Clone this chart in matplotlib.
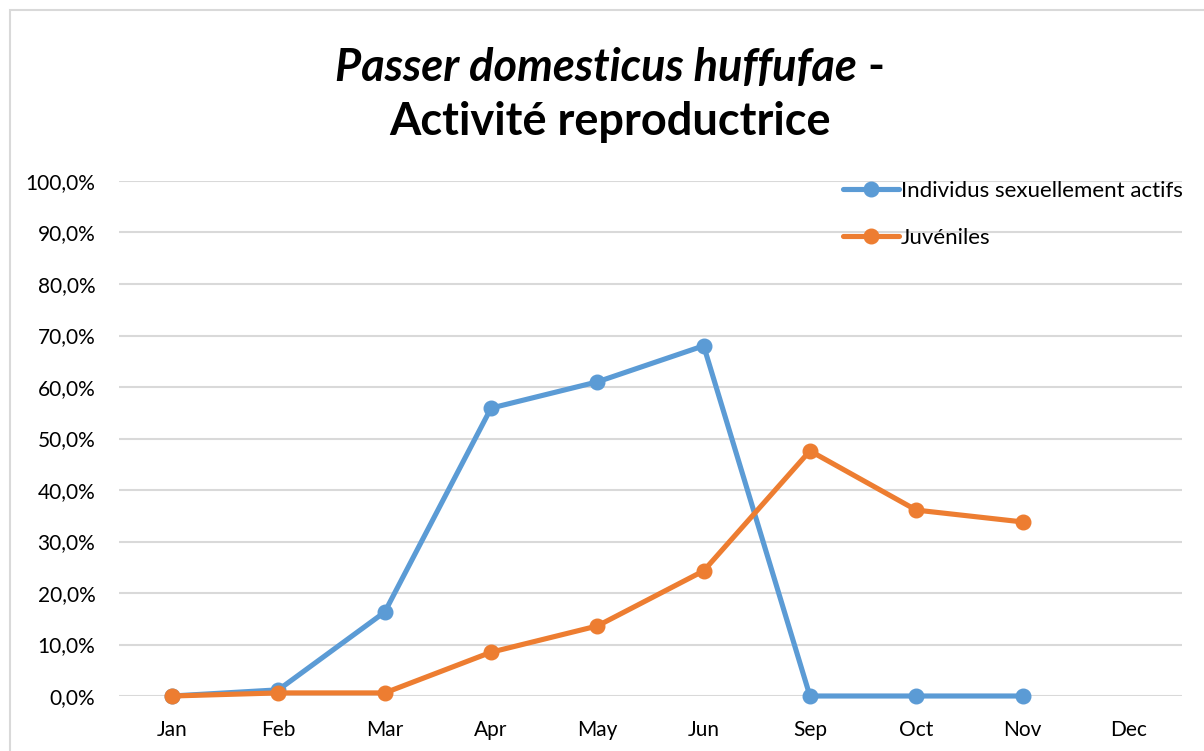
import matplotlib
matplotlib.use("Agg")
import matplotlib.pyplot as plt
from matplotlib.patches import Rectangle
from matplotlib.ticker import FuncFormatter, MultipleLocator

months = ["Jan", "Feb", "Mar", "Apr", "May", "Jun", "Sep", "Oct", "Nov", "Dec"]
actifs = [0.0, 1.2, 16.3, 55.9, 61.0, 68.0, 0.0, 0.0, 0.0]
juveniles = [0.0, 0.6, 0.6, 8.5, 13.6, 24.3, 47.6, 36.1, 33.8]
labels = ["Individus sexuellement actifs", "Juvéniles"]

blue = '#5B9BD5'
orange = '#ED7D31'
grid_col = '#D9D9D9'

plt.rcParams['font.family'] = ['Lato', 'DejaVu Sans']

fig = plt.figure(figsize=(12.04, 7.51), dpi=100)
ax = fig.add_axes([119/1204, 55/751, 1063/1204, 515/751])

x = list(range(len(months)))
ax.plot(x[:len(actifs)], actifs, color=blue, lw=3.7, marker='o', ms=10.5,
        solid_capstyle='round', label=labels[0], zorder=3)
ax.plot(x[:len(juveniles)], juveniles, color=orange, lw=3.7, marker='o', ms=10.5,
        solid_capstyle='round', label=labels[1], zorder=4)

ax.set_xlim(-0.5, len(months) - 0.5)
ax.set_ylim(0, 100)
ax.set_xticks(x)
ax.set_xticklabels(months)
ax.yaxis.set_major_locator(MultipleLocator(10))
ax.yaxis.set_major_formatter(FuncFormatter(lambda v, p: ("%.1f%%" % v).replace('.', ',')))
ax.tick_params(length=0, labelsize=15, colors='#000000')
ax.tick_params(axis='y', pad=17)
ax.tick_params(axis='x', pad=17)
ax.grid(axis='y', color=grid_col, lw=1.5)
ax.set_axisbelow(True)
for s in ax.spines.values():
    s.set_visible(False)
for ln in ax.lines:
    ln.set_clip_on(False)

leg = ax.legend(loc='upper left', bbox_to_anchor=(843/1204, 1 - 181/751),
                bbox_transform=fig.transFigure, frameon=False, fontsize=16,
                handlelength=2.5, handletextpad=0.1, labelspacing=1.2,
                borderpad=0, borderaxespad=0)

# title: italic species name followed by a plain dash
renderer = fig.canvas.get_renderer()
t1 = fig.text(0, 1 - 68/751, "Passer domesticus huffufae", fontsize=32.5,
              style='italic', weight='bold', va='center', ha='left')
t2 = fig.text(0, 1 - 68/751, " -", fontsize=32.5, weight='bold', va='center', ha='left')
w1 = t1.get_window_extent(renderer).width
w2 = t2.get_window_extent(renderer).width
x0 = (610 - (w1 + w2) / 2) / 1204
t1.set_x(x0)
t2.set_x(x0 + w1 / 1204)
fig.text(610/1204, 1 - 122/751, "Activité reproductrice", fontsize=32.5,
         weight='bold', va='center', ha='center')

# chart area outline
fig.add_artist(Rectangle((10/1204, -0.05), 1.1, (751 - 10)/751 + 0.05,
                         transform=fig.transFigure, fill=False,
                         ec=grid_col, lw=1.5))

fig.savefig("out.png", dpi=100)
